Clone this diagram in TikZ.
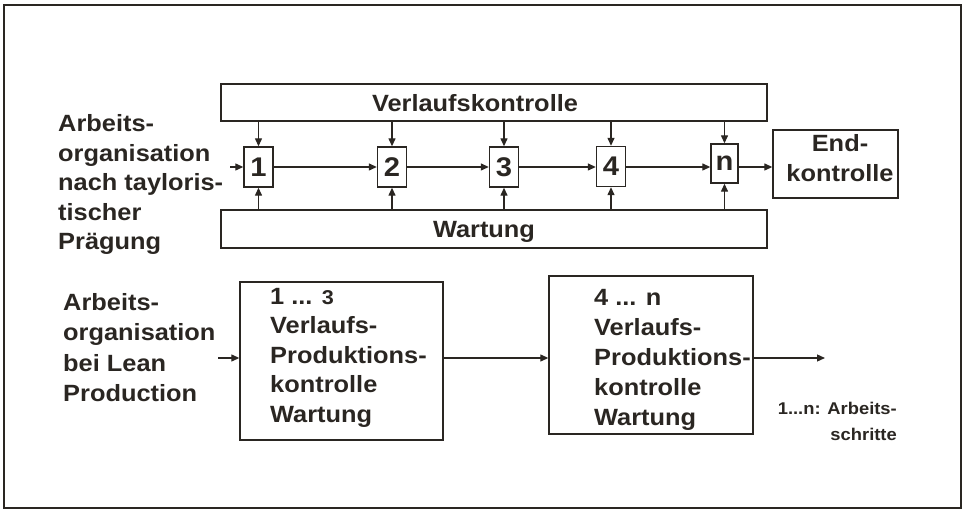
\documentclass[tikz,border=0pt]{standalone}
\usepackage{fontspec}
\setmainfont{Liberation Sans}[FakeStretch=1.08]
\usetikzlibrary{arrows.meta}
\definecolor{ink}{RGB}{42,38,34}
\begin{document}
\begin{tikzpicture}[x=1pt,y=-1pt,
  every node/.style={text=ink, font=\bfseries\fontsize{23.5}{29.5}\selectfont},
  box/.style={draw=ink, line width=1.4pt, rectangle, inner sep=0pt},
  cell/.style={box, minimum width=29pt, minimum height=40pt, font=\bfseries\fontsize{27}{30}\selectfont},
  lbl/.style={inner sep=0pt, align=left, anchor=base west},
  arr/.style={draw=ink, line width=1.3pt, -{Triangle[length=8pt,width=7pt]}}]
\useasboundingbox (0,0) rectangle (963,510);
\draw[ink, line width=2pt] (4,5) rectangle (961,508);

% --- Tayloristic organisation: upper row ---
% (multi-line labels are anchored at the baseline of their last line)
\node[box, minimum width=546pt, minimum height=37pt] (vk) at (494,102.5) {};
\node[inner sep=0pt, anchor=base] (vkt) at (475,112) {Verlaufskontrolle};
\node[box, minimum width=546pt, minimum height=38pt] (wt) at (494,229) {};
\node[inner sep=0pt, anchor=base] (wtt) at (484,238) {Wartung};

\node[cell] (b1) at (258.5,167) {1};
\node[cell] (b2) at (392,167) {2};
\node[cell] (b3) at (504,167) {3};
\node[cell] (b4) at (611,166.5) {4};
\node[cell, minimum width=27pt, minimum height=39pt] (bn) at (724.5,163.5) {n};
\node[box, minimum width=125pt, minimum height=68pt] (end) at (835.5,164) {};
\node[inner sep=0pt, align=center, anchor=base, font=\bfseries\fontsize{23.5}{30}\selectfont] (endt) at (840,182) {End-\\kontrolle};

\node[lbl] (tay) at (58,250) {Arbeits-\\organisation\\nach tayloris-\\tischer\\Prägung};

\coordinate (tin) at (230,167);
\draw[arr] (tin) -- (b1.west |- tin);
\draw[arr] (b1.east |- tin) -- (b2.west |- tin);
\draw[arr] (b2.east |- tin) -- (b3.west |- tin);
\draw[arr] (b3.east |- tin) -- (b4.west |- tin);
\draw[arr] (b4.east |- tin) -- (bn.west |- tin);
\draw[arr] (bn.east |- tin) -- (end.west |- tin);

\foreach \c in {b1,b2,b3,b4,bn}{
  \draw[arr] (vk.south -| \c.north) -- (\c.north);
  \draw[arr] (wt.north -| \c.south) -- (\c.south);
}

% --- Lean production: lower row ---
\node[lbl, font=\bfseries\fontsize{23.5}{30.5}\selectfont] (lean) at (63,401.5) {Arbeits-\\organisation\\bei Lean\\Production};

\node[box, minimum width=203pt, minimum height=158pt] (ga) at (341.5,361) {};
\node[lbl] (gat) at (270,422) {1 ... {\fontsize{20}{24}\selectfont 3}\\Verlaufs-\\Produktions-\\kontrolle\\Wartung};
\node[box, minimum width=204pt, minimum height=158pt] (gb) at (651,355) {};
\node[lbl, font=\bfseries\fontsize{23.5}{30}\selectfont] (gbt) at (594,425) {4 ... n\\Verlaufs-\\Produktions-\\kontrolle\\Wartung};

\coordinate (lin) at (218,358);
\coordinate (lout) at (825,358);
\draw[arr] (lin) -- (ga.west |- lin);
\draw[arr] (ga.east |- lin) -- (gb.west |- lin);
\draw[arr] (gb.east |- lout) -- (lout);

\node[inner sep=0pt, align=right, anchor=base east, font=\bfseries\fontsize{17}{26}\selectfont] (note) at (897,440) {1...n: Arbeits-\\schritte};
\end{tikzpicture}
\end{document}
